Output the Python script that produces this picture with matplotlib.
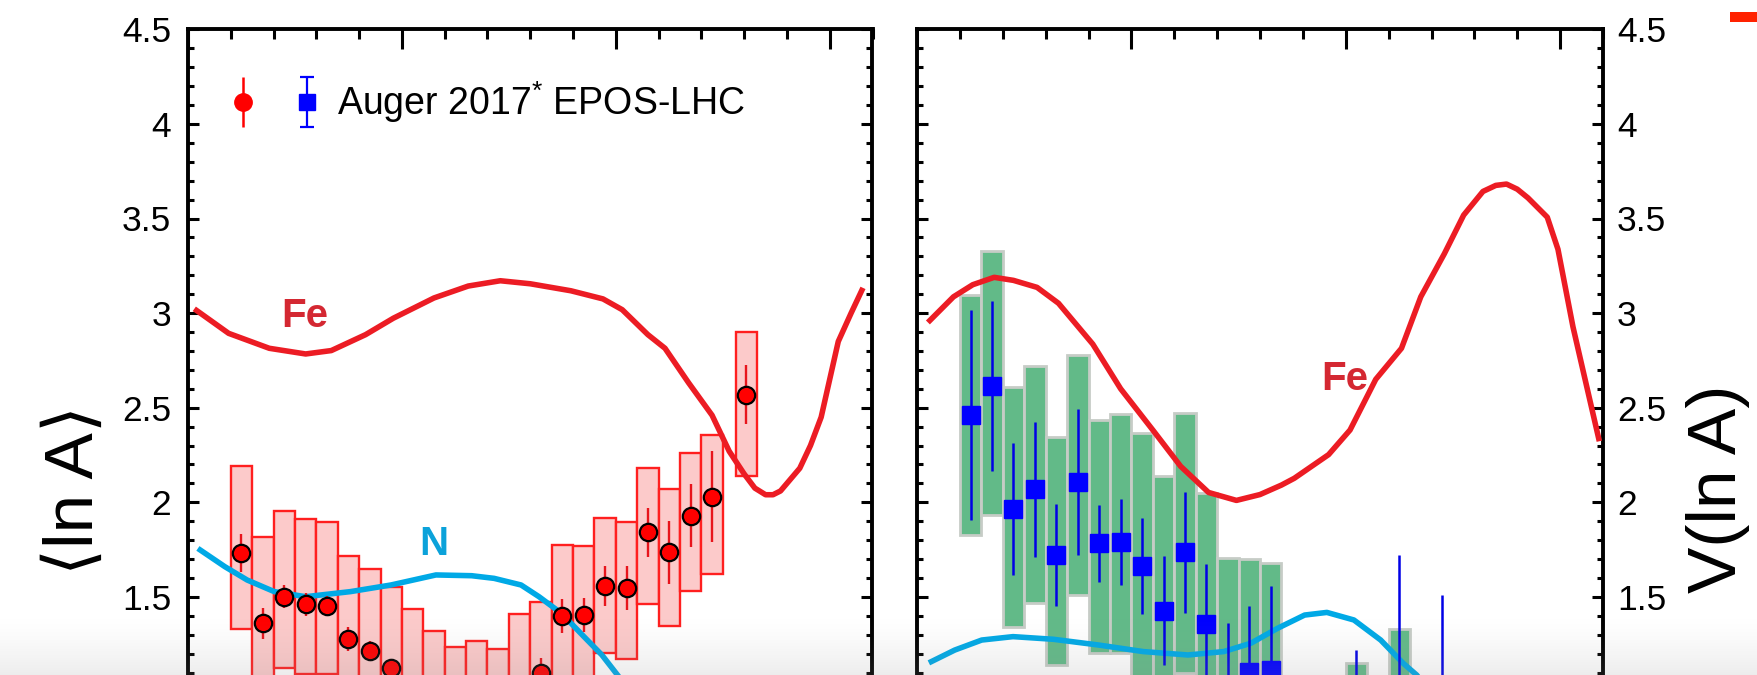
import numpy as np
import matplotlib
matplotlib.use("Agg")
import matplotlib.pyplot as plt
from matplotlib.legend_handler import HandlerTuple, HandlerErrorbar
from matplotlib.container import ErrorbarContainer
from matplotlib.patches import Rectangle
from matplotlib.ticker import MultipleLocator, FuncFormatter

plt.rcParams['font.family'] = ['Liberation Sans', 'DejaVu Sans']
plt.rcParams['mathtext.fontset'] = 'custom'
plt.rcParams['mathtext.rm'] = 'Liberation Sans'
plt.rcParams['mathtext.it'] = 'Liberation Sans:italic'
plt.rcParams['mathtext.bf'] = 'Liberation Sans:bold'

nan = np.nan

# ---- energy bins (lg E/eV) ----
lgE = [17.25, 17.35, 17.45, 17.55, 17.65, 17.75, 17.85, 17.95, 18.05, 18.15, 18.25, 18.35,
       18.45, 18.55, 18.65, 18.75, 18.85, 18.95, 19.05, 19.15, 19.25, 19.35, 19.45, 19.61]

# ---- <ln A> (Auger 2017, EPOS-LHC) ----
lnA_mean = [1.734, 1.360, 1.501, 1.461, 1.453, 1.278, 1.216, 1.123, 1.02, 0.98, 0.95, 0.95,
            0.97, 1.00, 1.096, 1.399, 1.403, 1.559, 1.545, 1.841, 1.736, 1.929, 2.030, 2.569]
lnA_stat = [0.10, 0.08, 0.06, 0.06, 0.05, 0.065, 0.05, 0.05, 0.04, 0.04, 0.04, 0.04,
            0.04, 0.04, 0.08, 0.09, 0.09, 0.105, 0.116, 0.128, 0.166, 0.166, 0.24, 0.155]
lnA_sys_lo = [1.330, 0.95, 1.122, 1.095, 1.09, 0.85, 0.80, 0.72, 0.62, 0.58, 0.55, 0.55,
              0.57, 0.62, 0.70, 1.02, 1.03, 1.202, 1.174, 1.461, 1.346, 1.529, 1.619, 2.137]
lnA_sys_hi = [2.192, 1.815, 1.954, 1.910, 1.898, 1.716, 1.647, 1.551, 1.434, 1.322, 1.237, 1.269,
              1.226, 1.408, 1.471, 1.776, 1.771, 1.917, 1.894, 2.181, 2.070, 2.259, 2.357, 2.901]

# ---- V(ln A) ----
var_mean = [2.461, 2.616, 1.965, 2.070, 1.721, 2.109, 1.783, 1.788, 1.663, 1.427, 1.736, 1.357,
            1.00, 1.105, 1.114, nan, nan, nan, 0.90, nan, 0.95, nan, 0.80, nan]
var_err = [0.557, 0.45, 0.35, 0.357, 0.27, 0.386, 0.205, 0.227, 0.256, 0.287, 0.32, 0.315,
           0.36, 0.347, 0.444, nan, nan, nan, 0.32, nan, 0.77, nan, 0.71, nan]
var_sys_lo = [1.829, 1.933, 1.343, 1.466, 1.140, 1.510, 1.202, 1.202, 0.95, 0.80, 1.100, 0.70,
              0.45, 0.50, 0.55, nan, nan, nan, 0.50, nan, 0.55, nan, nan, nan]
var_sys_hi = [3.098, 3.330, 2.608, 2.718, 2.347, 2.780, 2.435, 2.465, 2.365, 2.141, 2.470, 2.047,
              1.704, 1.700, 1.678, nan, nan, nan, 1.152, nan, 1.330, nan, nan, nan]

# ---- model curves ----
fe_lnA_x = [17.04, 17.19, 17.38, 17.55, 17.67, 17.83, 17.96, 18.15, 18.31, 18.46, 18.60, 18.79,
            18.94, 19.03, 19.15, 19.23, 19.34, 19.45, 19.53, 19.60, 19.65, 19.70, 19.735, 19.77,
            19.86, 19.91, 19.96, 20.04, 20.10, 20.15]
fe_lnA_y = [3.014, 2.893, 2.814, 2.784, 2.802, 2.886, 2.973, 3.080, 3.143, 3.171, 3.155, 3.118,
            3.075, 3.018, 2.886, 2.814, 2.632, 2.46, 2.27, 2.15, 2.075, 2.040, 2.040, 2.06,
            2.18, 2.30, 2.45, 2.85, 3.00, 3.12]
n_lnA_x = [17.057, 17.172, 17.277, 17.403, 17.55, 17.76, 17.949, 18.159, 18.326, 18.431, 18.557,
           18.641, 18.746, 18.851, 18.935, 19.008, 19.10]
n_lnA_y = [1.748, 1.660, 1.589, 1.528, 1.501, 1.528, 1.563, 1.616, 1.612, 1.598, 1.563,
           1.501, 1.413, 1.290, 1.193, 1.087, 0.95]
fe_var_x = [17.06, 17.17, 17.26, 17.36, 17.45, 17.56, 17.66, 17.82, 17.95, 18.10, 18.23, 18.36,
            18.49, 18.60, 18.70, 18.76, 18.92, 19.02, 19.14, 19.26, 19.35, 19.46, 19.55, 19.64,
            19.70, 19.75, 19.80, 19.85, 19.94, 19.99, 20.06, 20.18]
fe_var_y = [2.961, 3.086, 3.150, 3.189, 3.173, 3.136, 3.052, 2.836, 2.600, 2.382, 2.190, 2.052,
            2.010, 2.041, 2.091, 2.127, 2.252, 2.382, 2.650, 2.814, 3.086, 3.314, 3.518, 3.643,
            3.675, 3.682, 3.655, 3.609, 3.507, 3.337, 2.927, 2.337]
n_var_x = [17.067, 17.176, 17.302, 17.448, 17.636, 17.845, 18.055, 18.264, 18.431, 18.557, 18.682,
           18.808, 18.912, 19.038, 19.163, 19.268, 19.331, 19.42]
n_var_y = [1.158, 1.219, 1.272, 1.290, 1.276, 1.246, 1.211, 1.193, 1.211, 1.255, 1.334,
           1.404, 1.418, 1.378, 1.272, 1.149, 1.087, 0.95]

legend_label = r'Auger 2017$^{*}$ EPOS-LHC'
ylabel_left = '\u27e8ln A\u27e9'
ylabel_right = 'V(ln A)'

# ---- colours ----
FE_LINE = '#ec1c24'
N_LINE = '#00a9e6'
FE_TXT = '#d42832'
N_TXT = '#0ba2da'

W, H = 1758, 675
fig = plt.figure(figsize=(W / 100, H / 100), dpi=100)
YLO, YHI = 1.05, 4.5
top_px = 29.3
ppu = 189.2
ax_h = (YHI - YLO) * ppu
bot = (H - top_px - ax_h) / H
ax1 = fig.add_axes([188 / W, bot, 684.5 / W, ax_h / H])
ax2 = fig.add_axes([917 / W, bot, 686 / W, ax_h / H])
ybase_px = H - bot * H  # pixel row (from top) of y = YLO

fmt = FuncFormatter(lambda v, p: f'{v:g}')
for ax in (ax1, ax2):
    ax.set_xlim(17.0, 20.2)
    ax.set_ylim(YLO, YHI)
    ax.xaxis.set_major_locator(MultipleLocator(1.0))
    ax.xaxis.set_minor_locator(MultipleLocator(0.2))
    ax.yaxis.set_major_locator(MultipleLocator(0.5))
    ax.yaxis.set_minor_locator(MultipleLocator(0.1))
    ax.yaxis.set_major_formatter(fmt)
    for s in ax.spines.values():
        s.set_linewidth(2.8)
    ax.tick_params(axis='x', which='major', direction='in', length=14.5, width=2.2,
                   top=True, bottom=False, labelbottom=False)
    ax.tick_params(axis='x', which='minor', direction='in', length=7.5, width=2.2,
                   top=True, bottom=False)
    ax.tick_params(axis='y', which='major', direction='in', length=8, width=2.2,
                   left=True, right=True, labelsize=25.5)
    ax.tick_params(axis='y', which='minor', direction='in', length=4, width=2.2,
                   left=True, right=True)

ax1.tick_params(axis='y', which='major', labelleft=True, labelright=False, pad=12)
ax2.tick_params(axis='y', which='major', labelleft=False, labelright=True, pad=10)

# ---- left panel ----
lo = np.array(lnA_sys_lo); hi = np.array(lnA_sys_hi)
ax1.bar(lgE, hi - lo, bottom=lo, width=0.1, color='#fccaca', edgecolor='#ff1f1f',
        linewidth=1.7, zorder=1)
ax1.plot(fe_lnA_x, fe_lnA_y, color=FE_LINE, lw=4.0, zorder=3, solid_joinstyle='round')
ax1.plot(n_lnA_x, n_lnA_y, color=N_LINE, lw=4.0, zorder=3, solid_joinstyle='round')
ax1.errorbar(lgE, lnA_mean, yerr=lnA_stat, fmt='o', ms=12.5, mfc='#ff0000', mec='black',
             mew=1.6, ecolor='#e8141c', elinewidth=1.7, capsize=0, zorder=5)
ax1.text(17.544, 2.927, 'Fe', color=FE_TXT, fontsize=29, fontweight='bold',
         ha='center', va='baseline', zorder=6)
ax1.text(18.150, 1.721, 'N', color=N_TXT, fontsize=29, fontweight='bold',
         ha='center', va='baseline', zorder=6)

# legend (proxy handles)
h_red = ax1.errorbar([nan], [nan], yerr=[nan], fmt='o', ms=12.5, mfc='#ff0000', mec='#ff0000',
                     ecolor='#ff0000', elinewidth=1.8)
h_blue = ax1.errorbar([nan], [nan], yerr=[nan], fmt='s', ms=11, mfc='#0000ff', mec='#0000ff',
                      ecolor='#0000ff', elinewidth=1.6, capsize=5, capthick=1.6)
ax1.legend([(h_red, h_blue)], [legend_label],
           handler_map={tuple: HandlerTuple(ndivide=None, pad=1.0),
                        ErrorbarContainer: HandlerErrorbar(yerr_size=0.66)},
           loc='center left', bbox_to_anchor=((230 - 188) / 684.5, (ybase_px - 102.5) / ax_h),
           frameon=False, fontsize=27, handlelength=2.4, handletextpad=0.45,
           borderpad=0, borderaxespad=0)

ax1.text((92.7 - 188) / 684.5, (ybase_px - 490) / ax_h, ylabel_left, transform=ax1.transAxes,
         rotation=90, rotation_mode='anchor', ha='center', va='baseline', fontsize=50)

# ---- right panel ----
lo2 = np.array(var_sys_lo); hi2 = np.array(var_sys_hi)
ax2.bar(lgE, hi2 - lo2, bottom=lo2, width=0.1, color='#62ba88', edgecolor='#c6ccc6',
        linewidth=2.0, zorder=1)
ax2.plot(fe_var_x, fe_var_y, color=FE_LINE, lw=4.0, zorder=3, solid_joinstyle='round')
ax2.plot(n_var_x, n_var_y, color=N_LINE, lw=4.0, zorder=3, solid_joinstyle='round')
ax2.errorbar(lgE, var_mean, yerr=var_err, fmt='s', ms=12.5, mfc='#0000ff', mec='#0000ff',
             ecolor='#0000e6', elinewidth=1.8, capsize=0, zorder=5)
ax2.text(18.996, 2.596, 'Fe', color=FE_TXT, fontsize=29, fontweight='bold',
         ha='center', va='baseline', zorder=6)
ax2.text((1736 - 917) / 686, (ybase_px - 488.5) / ax_h, ylabel_right, transform=ax2.transAxes,
         rotation=90, rotation_mode='anchor', ha='center', va='baseline', fontsize=50)

# cut-off marker at top right corner
fig.add_artist(Rectangle((1730 / W, 1 - 21.7 / H), 28 / W, 10 / H, transform=fig.transFigure,
                         facecolor='#ff2200', edgecolor='none'))

# bottom fade of the screenshot
gh = 62
gax = fig.add_axes([0, 0, 1, gh / H], zorder=20)
gax.axis('off')
rgba = np.zeros((gh, 2, 4))
rgba[..., :3] = 0.55
rgba[..., 3] = (np.linspace(0, 1, gh) ** 1.5 * 0.16)[:, None]
gax.imshow(rgba, aspect='auto', extent=[0, 1, 0, 1], origin='upper', interpolation='bilinear')

fig.savefig('out.png', dpi=100)
